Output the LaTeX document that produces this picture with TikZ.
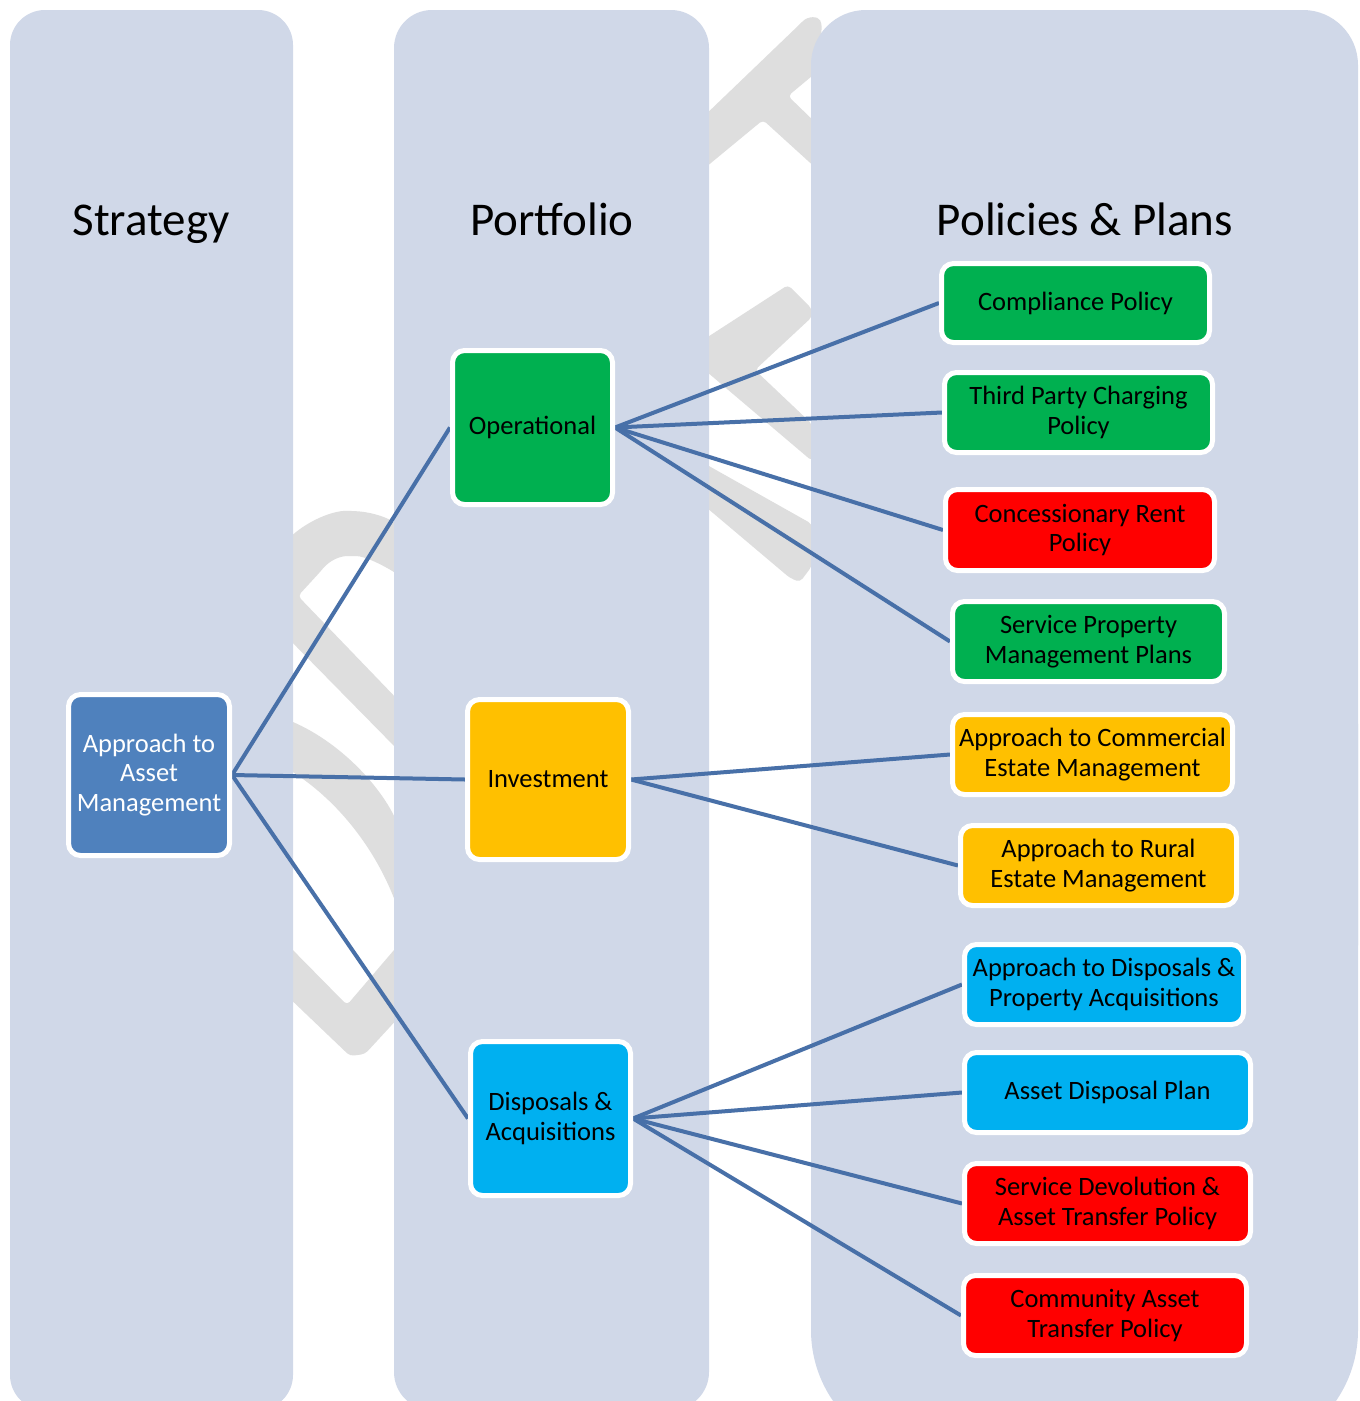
\documentclass[tikz,border=0pt]{standalone}
\usepackage{fontspec}
\setmainfont{Carlito}
\definecolor{colbg}{RGB}{208,216,232}
\definecolor{wmgrey}{RGB}{222,222,222}
\definecolor{linkblue}{RGB}{72,112,168}
\definecolor{assetblue}{RGB}{79,129,189}
\definecolor{boxgreen}{RGB}{0,176,80}
\definecolor{boxamber}{RGB}{255,192,0}
\definecolor{boxcyan}{RGB}{0,176,240}
\definecolor{boxred}{RGB}{255,0,0}
\pgfdeclarelayer{bg}
\pgfdeclarelayer{edges}
\pgfsetlayers{bg,edges,main}
\begin{document}
\begin{tikzpicture}[x=1pt,y=-1pt,
  box/.style={draw=white, line width=5pt, rounded corners=12pt, align=center,
    font=\fontsize{26.5}{29.5}\selectfont, inner sep=0pt, text=black},
  conn/.style={draw=linkblue, line width=4pt},
  title/.style={font=\fontsize{47}{50}\selectfont, anchor=base, inner sep=0pt},
  wmark/.style={fill=wmgrey, rounded corners=4pt}]
\useasboundingbox (0,0) rectangle (1360,1401);

% titles
\node[title] (tstrat) at (151,235) {Strategy};
\node[title] (tport) at (552,235) {Portfolio};
\node[title] (tpol) at (1085,235) {Policies \& Plans};

% level 1 and 2
\node[box, fill=assetblue, text=white, minimum width=161pt, minimum height=161pt] (asset) at (149,775) {Approach to\\Asset\\Management};
\node[box, fill=boxgreen, minimum width=160pt, minimum height=154pt] (oper) at (532.5,427.5) {Operational};
\node[box, fill=boxamber, minimum width=161pt, minimum height=160pt] (invest) at (548,779.5) {Investment};
\node[box, fill=boxcyan, minimum width=160pt, minimum height=154pt] (disp) at (550.5,1118.5) {Disposals \&\\Acquisitions};

% level 3
\node[box, fill=boxgreen, minimum width=268pt, minimum height=79pt] (comp) at (1075.5,303) {Compliance Policy};
\node[box, fill=boxgreen, minimum width=268pt, minimum height=80pt] (third) at (1078.5,412.5) {Third Party Charging\\Policy};
\node[box, fill=boxred, minimum width=269pt, minimum height=81pt] (conc) at (1080,530) {Concessionary Rent\\Policy};
\node[box, fill=boxgreen, minimum width=272pt, minimum height=80pt] (serv) at (1088.5,641.5) {Service Property\\Management Plans};
\node[box, fill=boxamber, minimum width=280pt, minimum height=80pt] (comm) at (1092.5,754.5) {Approach to Commercial\\Estate Management};
\node[box, fill=boxamber, minimum width=276pt, minimum height=80pt] (rural) at (1098.5,865.5) {Approach to Rural\\Estate Management};
\node[box, fill=boxcyan, minimum width=279pt, minimum height=80pt] (dacq) at (1104,984.5) {Approach to Disposals \&\\Property Acquisitions};
\node[box, fill=boxcyan, minimum width=286pt, minimum height=80pt] (adp) at (1107.5,1092.5) {Asset Disposal Plan};
\node[box, fill=boxred, minimum width=286pt, minimum height=80pt] (devo) at (1107.5,1203.5) {Service Devolution \&\\Asset Transfer Policy};
\node[box, fill=boxred, minimum width=283pt, minimum height=80pt] (cat) at (1105,1315.5) {Community Asset\\Transfer Policy};

\begin{pgfonlayer}{edges}
\draw[conn] (asset.east) -- (oper.west);
\draw[conn] (asset.east) -- (invest.west);
\draw[conn] (asset.east) -- (disp.west);
\draw[conn] (oper.east) -- (comp.west);
\draw[conn] (oper.east) -- (third.west);
\draw[conn] (oper.east) -- (conc.west);
\draw[conn] (oper.east) -- (serv.west);
\draw[conn] (invest.east) -- (comm.west);
\draw[conn] (invest.east) -- (rural.west);
\draw[conn] (disp.east) -- (dacq.west);
\draw[conn] (disp.east) -- (adp.west);
\draw[conn] (disp.east) -- (devo.west);
\draw[conn] (disp.east) -- (cat.west);
\end{pgfonlayer}

\begin{pgfonlayer}{bg}
\fill[white] (0,0) rectangle (1360,1401);
% faint DRAFT watermark, seen only between the columns
\fill[wmark] (283,545) .. controls (300,525) and (330,510) .. (352,511)
  .. controls (372,512) and (390,518) .. (400,527) -- (400,576)
  .. controls (385,566) and (365,556) .. (352,556)
  .. controls (340,556) and (330,560) .. (320,572) -- (298,596)
  -- (400,702) -- (400,752) -- (283,633) -- cycle;
\fill[wmark] (283,718) .. controls (340,740) and (385,790) .. (400,830)
  -- (400,915) .. controls (380,855) and (340,800) .. (283,766) -- cycle;
\fill[wmark] (283,940) -- (347,1005) -- (400,943) -- (400,1016)
  -- (365,1054) -- (350,1056) -- (283,992) -- cycle;
\fill[wmark] (700,120) -- (800,24) .. controls (808,16) and (818,16) .. (822,24)
  -- (818,71) -- (788,96) -- (818,125)
  -- (818,170) -- (763,120) -- (700,172) -- cycle;
\fill[wmark] (700,342) -- (788,285) -- (812,309) -- (812,317) -- (755,370)
  -- (812,424) -- (812,461) -- (700,366) -- cycle;
\fill[wmark] (700,461) -- (812,524) -- (812,566) -- (800,582) -- (790,578)
  -- (700,502) -- cycle;
% columns
\fill[colbg, rounded corners=35pt] (10,10) rectangle (293,1410);
\fill[colbg, rounded corners=38pt] (394,10) rectangle (709,1410);
\fill[colbg, rounded corners=55pt] (811,10) rectangle (1358,1000);
\fill[colbg, rounded corners=125pt] (811,600) rectangle (1358,1455);
\end{pgfonlayer}
\end{tikzpicture}
\end{document}
